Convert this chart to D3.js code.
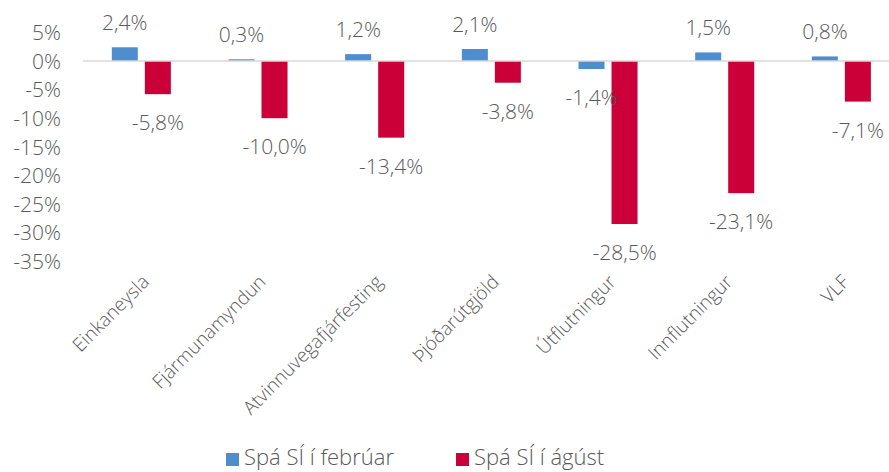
<!DOCTYPE html>
<html><head><meta charset="utf-8">
<script src="https://cdn.jsdelivr.net/npm/d3@7"></script>
<style>
body{margin:0;background:#fff;}
text{font-family:"Open Sans",sans-serif;font-weight:300;fill:#595959;}
</style></head>
<body><svg id="c" width="889" height="472"></svg>
<script>
const categories = ["Einkaneysla","Fjármunamyndun","Atvinnuvegafjárfesting","Þjóðarútgjöld","Útflutningur","Innflutningur","VLF"];
const seriesNames = ["Spá SÍ í febrúar","Spá SÍ í ágúst"];
const febValues = [2.4, 0.3, 1.2, 2.1, -1.4, 1.5, 0.8];
const augValues = [-5.8, -10.0, -13.4, -3.8, -28.5, -23.1, -7.1];
const yTicks = [5, 0, -5, -10, -15, -20, -25, -30, -35];
const colors = ["#4F8ECE", "#CC0039"];

const svg = d3.select("#c");
const x0 = d3.scaleBand().domain(categories).range([83, 899.7]).paddingInner(0.494).paddingOuter(0.247);
const x1 = d3.scaleBand().domain(seriesNames).range([0, x0.bandwidth()]).paddingInner(0.212).paddingOuter(0);
const y = d3.scaleLinear().domain([5, -35]).range([32.4, 261.2]);
const fmt = v => d3.format(".1f")(v).replace(".", ",").replace("−","-") + "%";

// y axis labels
const yAxis = d3.axisLeft(y).tickValues(yTicks).tickSize(0).tickPadding(0).tickFormat(d => d + "%");
const gy = svg.append("g").attr("transform", "translate(61,0)").call(yAxis);
gy.select(".domain").remove();
gy.selectAll("text").style("font-family", '"Open Sans",sans-serif').style("font-weight", 300)
  .attr("font-size", 21).attr("fill", "#595959").attr("dy", "0.35em");

const data = categories.map((c, i) => ({cat: c, vals: [febValues[i], augValues[i]]}));
const groups = svg.append("g").selectAll("g").data(data).join("g")
  .attr("transform", d => `translate(${x0(d.cat)},0)`);
groups.selectAll("rect").data(d => d.vals.map((v, k) => ({v, k}))).join("rect")
  .attr("x", d => x1(seriesNames[d.k]))
  .attr("width", x1.bandwidth())
  .attr("y", d => y(Math.max(0, d.v)))
  .attr("height", d => Math.abs(y(d.v) - y(0)))
  .attr("fill", d => colors[d.k]);
groups.selectAll("text.lbl").data(d => d.vals.map((v, k) => ({v, k}))).join("text")
  .attr("class", "lbl")
  .attr("x", d => x1(seriesNames[d.k]) + x1.bandwidth() / 2)
  .attr("y", d => d.v >= 0 ? y(d.v) - 17 : y(d.v) + 36)
  .attr("text-anchor", "middle").attr("font-size", 21)
  .text(d => fmt(d.v));

// zero line
svg.append("line").attr("x1", 83).attr("x2", 889).attr("y1", y(0)).attr("y2", y(0))
  .attr("stroke", "#d9d9d9").attr("stroke-width", 1.5);

// x labels
const xAxis = d3.axisBottom(x0).tickSize(0).tickPadding(0);
const gx = svg.append("g").attr("transform", "translate(0,278)").call(xAxis);
gx.select(".domain").remove();
gx.selectAll("text").style("font-family", '"Open Sans",sans-serif').style("font-weight", 300)
  .attr("font-size", 19).attr("fill", "#595959")
  .attr("text-anchor", "end").attr("dy", 0).attr("y", 0)
  .attr("transform", "translate(9,5) rotate(-45)");

// legend
const leg = svg.append("g");
const legX = [226, 456];
seriesNames.forEach((s, i) => {
  leg.append("rect").attr("x", legX[i]).attr("y", 453).attr("width", 13).attr("height", 13).attr("fill", colors[i]);
  leg.append("text").attr("x", legX[i] + 18).attr("y", 465).attr("font-size", 22).text(s);
});
</script></body></html>
